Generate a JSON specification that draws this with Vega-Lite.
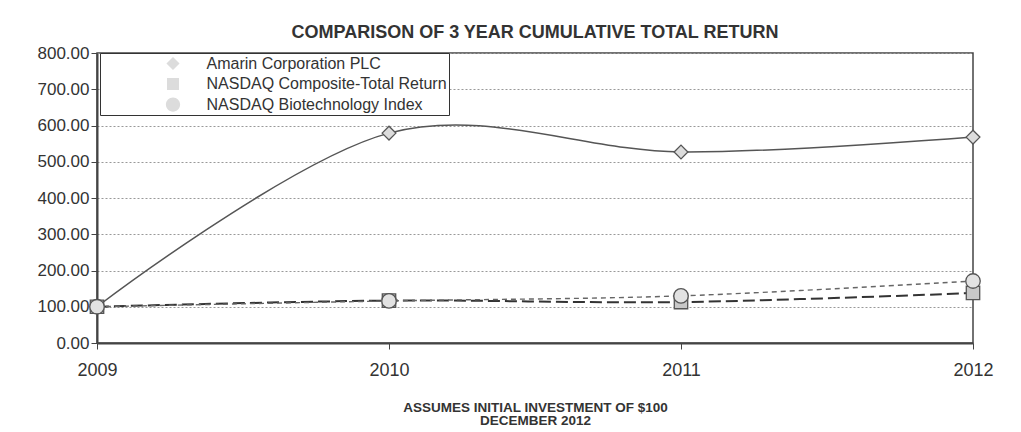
{
  "$schema": "https://vega.github.io/schema/vega-lite/v6.json",
  "width": 876,
  "height": 290,
  "autosize": {"type": "none"},
  "padding": {"left": 97, "top": 53, "right": 48, "bottom": 89},
  "background": "white",
  "title": {
    "text": "COMPARISON OF 3 YEAR CUMULATIVE TOTAL RETURN",
    "font": "Liberation Sans",
    "fontSize": 18,
    "fontWeight": "bold",
    "color": "#333",
    "anchor": "middle",
    "offset": 2
  },
  "config": {
    "view": {"stroke": "#444", "strokeWidth": 1.5},
    "font": "Liberation Sans"
  },
  "data": {
    "values": [
      {"year": 2009, "series": "Amarin Corporation PLC", "value": 100},
      {"year": 2010, "series": "Amarin Corporation PLC", "value": 579},
      {"year": 2011, "series": "Amarin Corporation PLC", "value": 527},
      {"year": 2012, "series": "Amarin Corporation PLC", "value": 568},
      {"year": 2009, "series": "NASDAQ Composite-Total Return", "value": 100},
      {"year": 2010, "series": "NASDAQ Composite-Total Return", "value": 117},
      {"year": 2011, "series": "NASDAQ Composite-Total Return", "value": 113},
      {"year": 2012, "series": "NASDAQ Composite-Total Return", "value": 138},
      {"year": 2009, "series": "NASDAQ Biotechnology Index", "value": 100},
      {"year": 2010, "series": "NASDAQ Biotechnology Index", "value": 116},
      {"year": 2011, "series": "NASDAQ Biotechnology Index", "value": 130},
      {"year": 2012, "series": "NASDAQ Biotechnology Index", "value": 171}
    ]
  },
  "encoding": {
    "x": {
      "field": "year",
      "type": "quantitative",
      "scale": {"domain": [2009, 2012], "nice": false, "zero": false},
      "axis": {
        "values": [2009, 2010, 2011, 2012],
        "format": "d",
        "grid": false,
        "domainColor": "#444",
        "domainWidth": 2,
        "tickColor": "#444",
        "tickSize": 6,
        "labelFontSize": 18,
        "labelColor": "#333",
        "labelPadding": 12,
        "labelFlush": false,
        "title": ["ASSUMES INITIAL INVESTMENT OF $100", "DECEMBER 2012"],
        "titleFontSize": 13.5,
        "titleFontWeight": "bold",
        "titleColor": "#333",
        "titlePadding": 21,
        "titleLineHeight": 13.5
      }
    },
    "y": {
      "field": "value",
      "type": "quantitative",
      "scale": {"domain": [0, 800], "nice": false},
      "axis": {
        "values": [0, 100, 200, 300, 400, 500, 600, 700, 800],
        "format": ".2f",
        "grid": true,
        "gridColor": "#999",
        "gridDash": [2, 2],
        "gridWidth": 1,
        "domainColor": "#444",
        "domainWidth": 2,
        "tickColor": "#444",
        "tickSize": 6,
        "labelFontSize": 17,
        "labelColor": "#333",
        "labelPadding": 2,
        "title": null
      }
    }
  },
  "layer": [
    {
      "transform": [{"filter": "datum.series === 'Amarin Corporation PLC'"}],
      "mark": {"type": "line", "interpolate": "cardinal", "stroke": "#555", "strokeWidth": 1.5},
      "encoding": {}
    },
    {
      "transform": [{"filter": "datum.series === 'NASDAQ Composite-Total Return'"}],
      "mark": {"type": "line", "interpolate": "cardinal", "stroke": "#333", "strokeWidth": 2, "strokeDash": [12, 5]},
      "encoding": {}
    },
    {
      "transform": [{"filter": "datum.series === 'NASDAQ Biotechnology Index'"}],
      "mark": {"type": "line", "interpolate": "cardinal", "stroke": "#666", "strokeWidth": 1.4, "strokeDash": [5, 4]},
      "encoding": {}
    },
    {
      "transform": [{"filter": "datum.series === 'Amarin Corporation PLC'"}],
      "mark": {"type": "point", "shape": "diamond", "filled": true, "fill": "#dcdcdc", "stroke": "#555", "strokeWidth": 1.3, "size": 190, "opacity": 1}
    },
    {
      "transform": [{"filter": "datum.series === 'NASDAQ Composite-Total Return'"}],
      "mark": {"type": "point", "shape": "square", "filled": true, "fill": "#c8c8c8", "stroke": "#555", "strokeWidth": 1.3, "size": 180, "opacity": 1}
    },
    {
      "transform": [{"filter": "datum.series === 'NASDAQ Biotechnology Index'"}],
      "mark": {"type": "point", "shape": "circle", "filled": true, "fill": "#e2e2e2", "stroke": "#555", "strokeWidth": 1.3, "size": 210, "opacity": 1}
    },
    {
      "transform": [{"filter": "datum.value < 0"}],
      "mark": {"type": "point", "filled": true, "fill": "#dcdcdc", "stroke": "#555", "strokeWidth": 1.3, "size": 3249},
      "encoding": {
        "shape": {
          "field": "series",
          "scale": {
            "domain": ["Amarin Corporation PLC", "NASDAQ Composite-Total Return", "NASDAQ Biotechnology Index"],
            "range": [
              "M-1,0H-0.23M0.23,0H1M-0.23,0L0,-0.23L0.23,0L0,0.23ZM10.1,0",
              "M-1,0H-0.62M-0.46,0H-0.21M0.21,0H0.46M0.62,0H0.95M-0.21,-0.21H0.21V0.21H-0.21ZM10.1,0",
              "M-1,0H-0.88M-0.78,0H-0.64M-0.54,0H-0.4M-0.32,0H-0.25M0.25,0H0.32M0.4,0H0.54M0.64,0H0.78M0.88,0H1M0.25,0A0.25,0.25 0 1,1 -0.25,0A0.25,0.25 0 1,1 0.25,0ZM10.1,0"
            ]
          },
          "legend": {
            "title": null,
            "orient": "none",
            "legendX": 3,
            "legendY": 0,
            "fillColor": "white",
            "strokeColor": "#333",
            "padding": 1.5,
            "clipHeight": 18,
            "rowPadding": 2.5,
            "symbolSize": 3249,
            "symbolOpacity": 1,
            "symbolStrokeWidth": 1.3,
            "symbolStrokeColor": "#555",
            "symbolFillColor": "#dcdcdc",
            "symbolOffset": 42,
            "labelOffset": 4,
            "labelFontSize": 16,
            "labelFont": "Liberation Sans",
            "labelColor": "#333",
            "labelLimit": 400,
            "encode": {
              "legend": {"update": {"strokeWidth": {"value": 1.8}}},
              "symbols": {"update": {
                "fill": {"value": "#dcdcdc"},
                "stroke": {"value": "#555"},
                "strokeWidth": {"value": 1.3},
                "size": {"value": 3249}
              }}
            }
          }
        }
      }
    }
  ]
}
